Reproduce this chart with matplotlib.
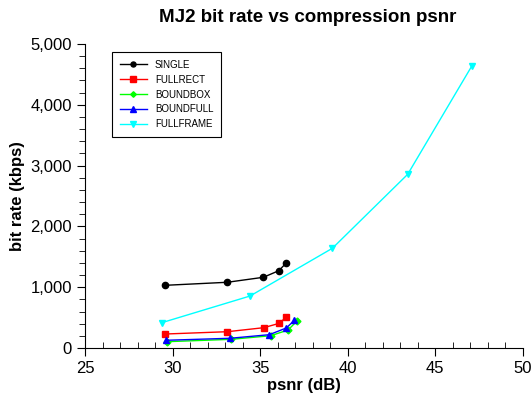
import matplotlib
matplotlib.use("Agg")
import matplotlib.pyplot as plt
from matplotlib.ticker import MultipleLocator, FuncFormatter

plt.rcParams['font.family'] = ['Liberation Sans', 'DejaVu Sans']

single_x = [29.57, 33.12, 35.18, 36.06, 36.47]
single_y = [1031, 1081, 1163, 1271, 1393]
fullrect_x = [29.57, 33.12, 35.2, 36.09, 36.49]
fullrect_y = [230, 268, 334, 406, 510]
boundbox_x = [29.7, 33.35, 35.6, 36.59, 37.12]
boundbox_y = [104, 143, 202, 296, 449]
boundfull_x = [29.62, 33.29, 35.52, 36.49, 36.95]
boundfull_y = [127, 160, 219, 329, 455]
fullframe_x = [29.38, 34.42, 39.12, 43.42, 47.09]
fullframe_y = [416, 855, 1640, 2857, 4643]

fig = plt.figure(figsize=(5.32, 3.93), dpi=100)
ax = fig.add_axes([0.1598, 0.1145, 0.8232, 0.7735])

series = [
    ("SINGLE", single_x, single_y, "black", "o", 4.5),
    ("FULLRECT", fullrect_x, fullrect_y, "red", "s", 5),
    ("BOUNDBOX", boundbox_x, boundbox_y, "#00ff00", "D", 3.5),
    ("BOUNDFULL", boundfull_x, boundfull_y, "blue", "^", 5),
    ("FULLFRAME", fullframe_x, fullframe_y, "cyan", "v", 5),
]
for name, xs, ys, c, m, ms in series:
    ax.plot(xs, ys, color=c, marker=m, markersize=ms, linewidth=1, label=name)

ax.set_xlim(25, 50)
ax.set_ylim(0, 5000)
ax.xaxis.set_major_locator(MultipleLocator(5))
ax.xaxis.set_minor_locator(MultipleLocator(1))
ax.yaxis.set_major_locator(MultipleLocator(1000))
ax.yaxis.set_minor_locator(MultipleLocator(200))
ax.yaxis.set_major_formatter(FuncFormatter(lambda v, p: f"{int(v):,}"))
ax.tick_params(axis='x', which='major', direction='out', length=6, labelsize=12)
ax.tick_params(axis='x', which='minor', direction='in', length=4)
ax.tick_params(axis='y', which='major', direction='out', length=6, labelsize=12)
ax.tick_params(axis='y', which='minor', direction='out', length=4)
for s in ['top', 'right']:
    ax.spines[s].set_visible(False)

ax.set_xlabel("psnr (dB)", fontsize=12, fontweight='bold', labelpad=1)
ax.set_ylabel("bit rate (kbps)", fontsize=12, fontweight='bold')
fig.text(308/532, 1 - 18/393, "MJ2 bit rate vs compression psnr", fontsize=13.5,
         fontweight='bold', ha='center', va='center')

leg = ax.legend(loc='upper left', bbox_to_anchor=((112-85)/438, (348-52)/304),
                borderaxespad=0, fontsize=7, fancybox=False, edgecolor='black',
                framealpha=1, borderpad=0.8, handlelength=2.8, labelspacing=0.5,
                markerscale=0.8)
leg.get_frame().set_linewidth(0.8)

fig.savefig("out.png", dpi=100)
